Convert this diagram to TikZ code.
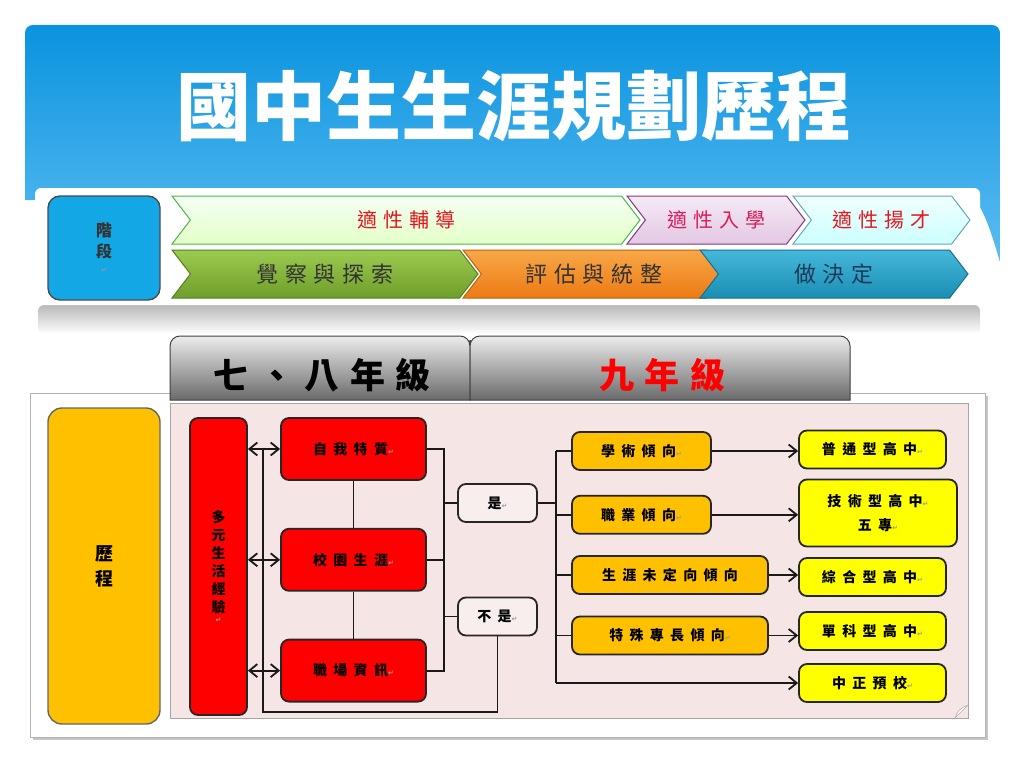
\documentclass[tikz,border=0pt]{standalone}
\usepackage{fontspec}
\newfontfamily\cjk{Noto Sans CJK TC}
\newfontfamily\cjkwide{Noto Sans CJK TC}[LetterSpace=45]
\newfontfamily\cjkloose{Noto Sans CJK TC}[LetterSpace=30]
\newfontfamily\symfont{DejaVu Sans}
\usetikzlibrary{shapes.symbols, arrows.meta, positioning}
\definecolor{titleTop}{HTML}{0A93DE}
\definecolor{titleBottom}{HTML}{5CBDF2}
\definecolor{stageBlue}{HTML}{14A7E6}
\definecolor{progOrange}{HTML}{FFC000}
\definecolor{boxRed}{HTML}{FF0000}
\definecolor{boxYellow}{HTML}{FFFF00}
\definecolor{panelPink}{HTML}{F6E5E5}
\definecolor{choiceFill}{HTML}{F9EEEE}
\definecolor{guideRed}{HTML}{E6161E}
\definecolor{admitRed}{HTML}{D81E5B}
\definecolor{greenTop}{HTML}{9CCB50}
\definecolor{greenBottom}{HTML}{6E9E2A}
\definecolor{orangeTop}{HTML}{F8A848}
\definecolor{orangeBottom}{HTML}{EC7A14}
\definecolor{tealTop}{HTML}{45B8DA}
\definecolor{tealBottom}{HTML}{1A8DB3}
\definecolor{tealText}{HTML}{1E3A58}
\definecolor{tabTop}{HTML}{ECECEC}
\definecolor{tabBottom}{HTML}{6A6A6A}
\newcommand{\pmark}{{\symfont\fontsize{7}{7}\selectfont\color{gray!80}↵}}
\tikzset{%
>={Straight Barb[length=8pt,width=13pt]},
% Specifications for style of nodes:
base/.style = {draw=black!85, line width=1.8pt, rounded corners=8, text centered, inner sep=0pt},
redbox/.style = {base, fill=boxRed, minimum width=145, minimum height=62, font=\cjkwide\bfseries\fontsize{14}{17}\selectfont},
orangebox/.style = {base, fill=progOrange, minimum height=38, font=\cjkwide\bfseries\fontsize{14}{17}\selectfont},
yellowbox/.style = {base, fill=boxYellow, minimum width=147, minimum height=38, font=\cjkwide\bfseries\fontsize{14}{17}\selectfont},
choicebox/.style = {base, fill=choiceFill, minimum width=79, minimum height=38, font=\cjkwide\bfseries\fontsize{14}{17}\selectfont},
chevron/.style = {signal, signal from=west, signal to=east, signal pointer angle=105, inner sep=0pt, line width=1pt},
topstep/.style = {chevron, minimum height=48, font=\cjkloose\fontsize{20}{22}\selectfont},
bottomstep/.style = {chevron, minimum height=48, font=\cjkloose\fontsize{22}{24}\selectfont, text=black!80},
gradetab/.style = {top color=tabTop, bottom color=tabBottom, draw=black!75, line width=1pt},
line/.style = {line width=1.8pt, draw=black!90},
}

\begin{document}
\begin{tikzpicture}[x=1pt, y=-1pt]
        \useasboundingbox (0,0) rectangle (1024,768);
        \fill[white] (0,0) rectangle (1024,768);

        % title panel
        \shade[top color=titleTop, bottom color=titleBottom] (25,200) [rounded corners=8] -- (25,25) -- (1000,25) -- (1000,40) [sharp corners] -- (1000,262) .. controls (992,235) and (985,212) .. (975,200) -- cycle;
        \node (title) [font=\cjk\bfseries\fontsize{75}{75}\selectfont, text=white] at (514,106) {國中生生涯規劃歷程};

        % stage band
        \shade[top color=gray!55, bottom color=white, rounded corners=6] (38,305) rectangle (980,334);
        \fill[white, rounded corners=6] (35,188) rectangle (980,305);
        \node (stageLabel) [base, draw=black!70, line width=1.4pt, rounded corners=12, fill=stageBlue, minimum width=112, minimum height=104, align=center, font=\cjk\bfseries\fontsize{16}{21}\selectfont, text=black!80] at (104,248) {階\\段\\[-6pt]\pmark};
        \node (fitGuide) [topstep, minimum width=468, draw=green!45!gray, top color=green!4, bottom color=green!50!yellow!22, text=guideRed] at (406,220) {適性輔導};
        \node (fitAdmit) [topstep, minimum width=178, draw=violet!55!gray, top color=violet!8, bottom color=violet!22, text=admitRed] at (716,220) {適性入學};
        \node (fitTalent) [topstep, minimum width=177, draw=cyan!50!gray, top color=cyan!6, bottom color=cyan!20, text=guideRed] at (881.5,220) {適性揚才};
        \node (explore) [bottomstep, minimum width=306, draw=greenBottom!80!black, top color=greenTop, bottom color=greenBottom] at (325,274) {覺察與探索};
        \node (evaluate) [bottomstep, minimum width=262, draw=orangeBottom!80!black, top color=orangeTop, bottom color=orangeBottom] at (594,274) {評估與統整};
        \node (decide) [bottomstep, minimum width=268, draw=tealBottom!80!black, top color=tealTop, bottom color=tealBottom, text=tealText] at (834,274) {做決定};

        % process panel
        \fill[gray!45] (33,396) rectangle (988,740);
        \filldraw[fill=white, draw=gray!60] (30,393) rectangle (985,737);
        \shade[gradetab] (170,400) [rounded corners=10] -- (170,336) -- (470,336) -- (470,350) [sharp corners] -- (470,400) -- cycle;
        \shade[gradetab] (850,400) [rounded corners=10] -- (850,336) -- (470,336) -- (470,350) [sharp corners] -- (470,400) -- cycle;
        \node (gradeSevenEight) [font=\cjkloose\bfseries\fontsize{35}{35}\selectfont] at (322,375) {七、八年級};
        \node (gradeNine) [font=\cjkloose\bfseries\fontsize{35}{35}\selectfont, text=red] at (662,375) {九年級};
        \node (processLabel) [base, draw=black!60, line width=1.4pt, rounded corners=14, fill=progOrange, minimum width=112, minimum height=316, align=center, font=\cjk\bfseries\fontsize{18}{25}\selectfont] at (104,566) {歷\\程};
        \filldraw[fill=panelPink, draw=gray!70, line width=0.8pt] (170,403) rectangle (968,718);
        \filldraw[fill=white, draw=gray!60, line width=0.6pt] (955,718) -- (968,705) .. controls (960,708) and (957,712) .. cycle;

        % Specification of nodes (position, etc.)
        \node (lifeExp) [redbox, minimum width=57, minimum height=297, align=center, font=\cjk\bfseries\fontsize{14}{18}\selectfont] at (218.5,566.5) {多\\元\\生\\活\\經\\驗\\[-8pt]\pmark};
        \node (selfTrait) [redbox] at (353.5,449) {自我特質\pmark};
        \node (campusLife) [redbox, below=47pt of selfTrait] {校園生涯\pmark};
        \node (workInfo) [redbox, below=47pt of campusLife] {職場資訊\pmark};
        \node (yesBox) [choicebox] at (497.5,503) {是\pmark};
        \node (noBox) [choicebox] at (497.5,616.5) {不是\pmark};
        \node (academic) [orangebox, minimum width=139] at (641.5,451) {學術傾向\pmark};
        \node (vocational) [orangebox, minimum width=139, below=24pt of academic] {職業傾向\pmark};
        \node (undecided) [orangebox, minimum width=196] at (670,575) {生涯未定向傾向};
        \node (talent) [orangebox, minimum width=196] at (670,635.5) {特殊專長傾向\pmark};
        \node (general) [yellowbox] at (872.5,449.5) {普通型高中\pmark};
        \node (technical) [yellowbox, minimum width=158, minimum height=67, align=center, font=\cjkwide\bfseries\fontsize{14}{24}\selectfont] at (878,513) {技術型高中\pmark\\五專\pmark};
        \node (comprehensive) [yellowbox] at (872.5,577) {綜合型高中\pmark};
        \node (single) [yellowbox] at (872.5,631) {單科型高中\pmark};
        \node (military) [yellowbox] at (872.5,683) {中正預校\pmark};

        \draw [line, <->] (lifeExp.east |- selfTrait) -- (selfTrait.west);
        \draw [line, <->] (lifeExp.east |- campusLife) -- (campusLife.west);
        \draw [line, <->] (lifeExp.east |- workInfo) -- (workInfo.west);
        \draw [line] (selfTrait) -- (campusLife);
        \draw [line] (campusLife) -- (workInfo);
        \draw [line] (selfTrait.east) -- ++(17,0) coordinate (joinTop) |- (workInfo.east);
        \draw [line] (campusLife.east) -- (campusLife.east -| joinTop);
        \draw [line] (joinTop |- yesBox.west) -- (yesBox.west);
        \draw [line] (joinTop |- noBox.west) -- (noBox.west);
        \coordinate (loopCorner) at (263,712);
        \draw [line] (noBox.south) |- (loopCorner) -- (loopCorner |- selfTrait);
        \draw [line] (yesBox.east) -- ++(18,0) coordinate (branch);
        \draw [line] (branch |- academic.west) -- (branch |- military.west);
        \draw [line] (branch |- academic.west) -- (academic.west);
        \draw [line] (branch |- vocational.west) -- (vocational.west);
        \draw [line] (branch |- undecided.west) -- (undecided.west);
        \draw [line] (branch |- talent.west) -- (talent.west);
        \draw [line, ->] (branch |- military.west) -- (military.west);
        \draw [line, ->] (academic.east) -- (academic.east -| general.west);
        \draw [line, ->] (vocational.east) -- (vocational.east -| technical.west);
        \draw [line, ->] (undecided.east) -- (undecided.east -| comprehensive.west);
        \draw [line, ->] (talent.east) -- (talent.east -| single.west);
    \end{tikzpicture}
\end{document}
